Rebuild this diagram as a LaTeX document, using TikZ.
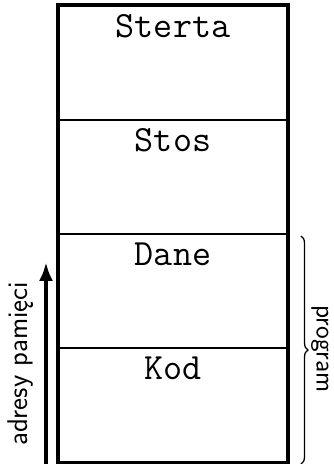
\documentclass[tikz,border=0pt]{standalone}
\usepackage{fontspec}
\usetikzlibrary{arrows.meta,decorations.pathreplacing}

\begin{document}
\begin{tikzpicture}[x=1pt,y=1pt]
\useasboundingbox (0,0) rectangle (334,464);
\foreach \s [count=\j from 0] in {Kod,Dane,Stos,Sterta} {
  \node[draw,line width=2pt,minimum width=228pt,minimum height=114.1pt,inner sep=0] (seg\j) at (173,1.5+114.1*\j+57.05) {};
  \node[anchor=base,font=\fontsize{37}{40}\selectfont\ttfamily] (name\j) at ([yshift=-32pt]seg\j.north) {\s};
}
\draw[line width=3.6pt] (seg0.south west) rectangle (seg3.north east);
\coordinate (addrlow) at (46,0);
\coordinate (addrhigh) at (46,202);
\draw[-{Latex[length=19pt,width=14pt]},line width=4pt] (addrlow)--(addrhigh);
\node[rotate=90,anchor=south,inner sep=0,font=\fontsize{28.5}{32}\selectfont\sffamily] (addr) at (34,100) {adresy pamięci};
\coordinate (progtop) at (301,228);
\coordinate (progbot) at (301,0);
\draw[line width=1.3pt,decorate,decoration={brace,amplitude=7pt}] (progtop)--(progbot);
\node[rotate=-90,anchor=south,inner sep=0,font=\fontsize{27}{32}\selectfont\sffamily] (prog) at (311,115) {program};
\end{tikzpicture}
\end{document}
